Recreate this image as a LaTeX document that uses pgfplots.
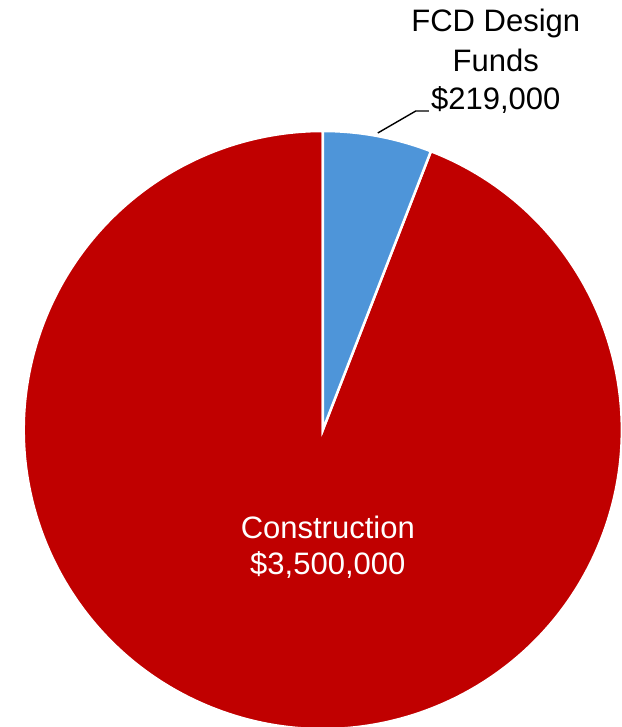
\documentclass[border=0pt]{standalone}
\usepackage{pgfplots}
\usepackage{pgfplotstable}
\usepackage{fontspec}
\setmainfont{Liberation Sans}
\pgfplotsset{compat=1.18}
\definecolor{cred}{HTML}{C00000}
\definecolor{cblue}{HTML}{4E95D9}
\pgfplotstableread{
label value
FCD 219000
Construction 3500000
}\piedata
\begin{document}
\pgfplotstablegetelem{0}{value}\of\piedata \let\va\pgfplotsretval
\pgfplotstablegetelem{1}{value}\of\piedata \let\vb\pgfplotsretval
\edef\angA{\fpeval{360*\va/(\va+\vb)}}
\begin{tikzpicture}
\begin{axis}[
  width=619pt, height=727pt, scale only axis,
  xmin=0, xmax=619, ymin=0, ymax=727,
  hide axis, clip=true,
]
\fill[cred, draw=white, line width=2.5pt] (axis cs:320,297) -- ([shift={({90-\angA}:299pt)}]axis cs:320,297) arc[start angle={90-\angA}, end angle=-270, radius=299pt] -- cycle;
\fill[cblue, draw=white, line width=2.5pt] (axis cs:320,297) -- (axis cs:320,596) arc[start angle=90, end angle={90-\angA}, radius=299pt] -- cycle;
\addplot[black, line width=1.4pt, mark=none] coordinates {(375,594) (413,616) (426,616)};
\node[anchor=base, font=\fontsize{31}{38}\selectfont] at (axis cs:493,695) {FCD Design};
\node[anchor=base, font=\fontsize{31}{38}\selectfont] at (axis cs:493,655) {Funds};
\node[anchor=base, font=\fontsize{31}{38}\selectfont] at (axis cs:493,617) {\$219,000};
\node[anchor=base, white, font=\fontsize{31}{38}\selectfont] at (axis cs:325,188) {Construction};
\node[anchor=base, white, font=\fontsize{31}{38}\selectfont] at (axis cs:325,152) {\$3,500,000};
\end{axis}
\pgfresetboundingbox
\useasboundingbox (current axis.south west) rectangle (current axis.north east);
\end{tikzpicture}
\end{document}
